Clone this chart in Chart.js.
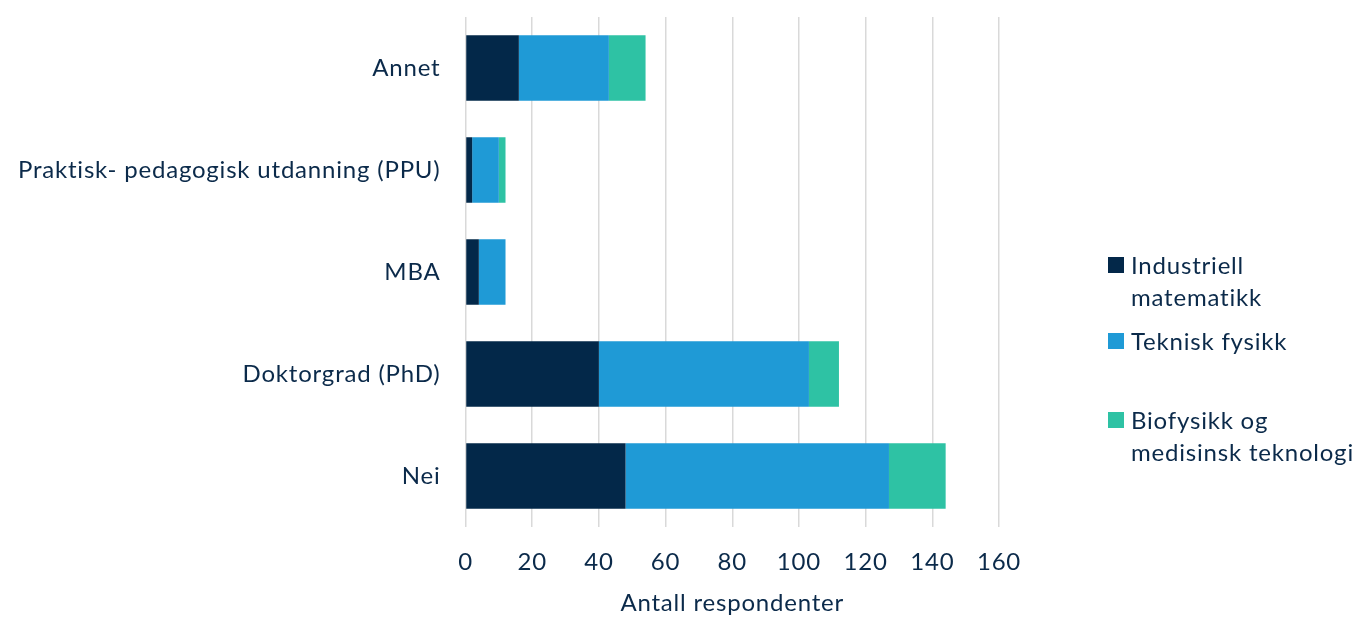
<!DOCTYPE html>
<html><head><meta charset="utf-8">
<script src="https://cdn.jsdelivr.net/npm/chart.js@4.4.1/dist/chart.umd.min.js"></script>
<style>
html,body{margin:0;padding:0;background:#fff;}
#wrap{position:relative;width:1360px;height:618px;}
#legend{position:absolute;left:1108px;top:0;font-family:Lato,"Open Sans",sans-serif;font-size:24px;letter-spacing:0.8px;color:#0b2a4a;}
.li{position:absolute;left:0;white-space:nowrap;line-height:32px;}
.sw{position:absolute;left:0;width:16px;height:16px;}
.tx{position:absolute;left:23px;}
</style></head>
<body><div id="wrap"><canvas id="c" width="1360" height="618"></canvas><div id="legend"></div></div>
<script>
const categories = ["Annet", "Praktisk- pedagogisk utdanning (PPU)", "MBA", "Doktorgrad (PhD)", "Nei"];
const seriesNames = [["Industriell", "matematikk"], ["Teknisk fysikk"], ["Biofysikk og", "medisinsk teknologi"]];
const industriell = [16, 2, 4, 40, 48];
const teknisk = [27, 8, 8, 63, 79];
const biofysikk = [11, 2, 0, 9, 17];
const xTicks = [0, 20, 40, 60, 80, 100, 120, 140, 160];
const colors = ["#032849", "#1f9ad6", "#2ec2a4"];
const textColor = "#0b2a4a";
const FONT = "Lato, 'Open Sans', sans-serif";

const spacingPlugin = {
  id: 'spacing',
  beforeLayout: c => { c.ctx.letterSpacing = '0.8px'; },
  beforeDraw: c => { c.ctx.letterSpacing = '0.8px'; }
};

const values = [industriell, teknisk, biofysikk];
const chart = new Chart(document.getElementById('c'), {
  type: 'bar',
  plugins: [spacingPlugin],
  data: {
    labels: categories,
    datasets: values.map((v, i) => ({
      label: seriesNames[i].join(' '),
      data: v,
      backgroundColor: colors[i],
      borderWidth: 0,
      categoryPercentage: 0.64,
      barPercentage: 1.0
    }))
  },
  options: {
    indexAxis: 'y',
    responsive: false,
    animation: false,
    layout: { padding: { left: 0, right: 361, top: 17, bottom: 0 } },
    plugins: { legend: { display: false }, tooltip: { enabled: false } },
    scales: {
      x: {
        stacked: true, min: 0, max: 160,
        afterBuildTicks: s => { s.ticks = xTicks.map(v => ({ value: v })); },
        grid: { color: '#d9d9d9', lineWidth: 1.5, drawTicks: false },
        border: { display: false },
        ticks: { color: textColor, font: { family: FONT, size: 24 }, padding: 21 },
        title: { display: true, text: 'Antall respondenter', color: textColor, font: { family: FONT, size: 24 }, padding: { top: 4, bottom: 0 } },
        afterFit: s => { s.height = 91; s.paddingLeft = 0; s.paddingRight = 0; }
      },
      y: {
        stacked: true,
        grid: { display: false, drawTicks: false },
        border: { display: false },
        ticks: { color: textColor, font: { family: FONT, size: 24 }, padding: 25 },
        afterFit: s => { s.width = 465.5; s.paddingTop = 0; s.paddingBottom = 0; }
      }
    }
  }
});

// HTML legend built from the chart's datasets
const legendTops = [249, 325, 404];
const lg = document.getElementById('legend');
chart.data.datasets.forEach((ds, i) => {
  const d = document.createElement('div');
  d.className = 'li';
  d.style.top = legendTops[i] + 'px';
  const sw = document.createElement('div');
  sw.className = 'sw';
  sw.style.background = ds.backgroundColor;
  sw.style.top = '8px';
  const tx = document.createElement('div');
  tx.className = 'tx';
  tx.innerHTML = seriesNames[i].join('<br>');
  d.appendChild(sw); d.appendChild(tx);
  lg.appendChild(d);
});
</script></body></html>
